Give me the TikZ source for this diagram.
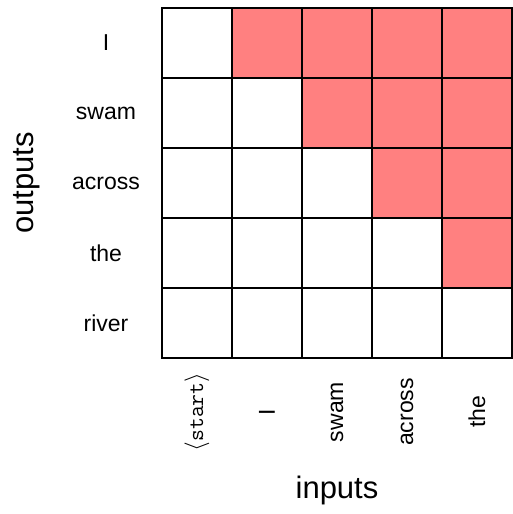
\documentclass[tikz,border=0pt]{standalone}
\usepackage{fontspec}
\setmainfont{Liberation Sans}
\begin{document}
\begin{tikzpicture}[x=1pt,y=-1pt,
  lab/.style={font=\fontsize{23}{23}\selectfont, inner sep=0pt},
  axlab/.style={font=\fontsize{31}{31}\selectfont, inner sep=0pt},
  cellbox/.style={draw=black, line width=2.2pt},
  masked/.style={fill=red!50}]
\useasboundingbox (0,0) rectangle (513,514);
% masked cells
\foreach \r in {0,...,3}{
  \pgfmathtruncatemacro{\s}{\r+1}
  \foreach \c in {\s,...,4}{
    \fill[masked] (162+70*\c,8+70*\r) rectangle (232+70*\c,78+70*\r);
  }
}
% grid
\foreach \i in {0,...,5}{
  \draw[cellbox, line cap=rect] (162+70*\i,8) -- (162+70*\i,358);
  \draw[cellbox, line cap=rect] (162,8+70*\i) -- (512,8+70*\i);
}
% row labels
\node[lab] (r1) at (106,43) {I};
\node[lab] (r2) at (106,113) {swam};
\node[lab] (r3) at (106,183) {across};
\node[lab] (r4) at (106,253) {the};
\node[lab] (r5) at (106,323) {river};
% column labels
\node[lab, rotate=90] (c1) at (197,412) {$\langle$\texttt{start}$\rangle$};
\node[lab, rotate=90] (c2) at (267,412) {I};
\node[lab, rotate=90] (c3) at (337,412) {swam};
\node[lab, rotate=90] (c4) at (407,412) {across};
\node[lab, rotate=90] (c5) at (477,412) {the};
% axis labels
\node[axlab, rotate=90] (out) at (27,183) {outputs};
\node[axlab] (in) at (337,490) {inputs};
\end{tikzpicture}
\end{document}
